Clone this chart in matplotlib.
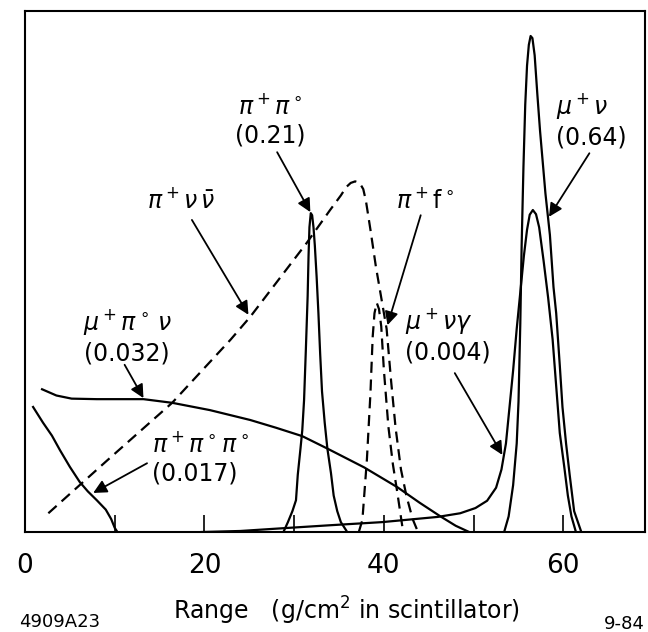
import matplotlib.pyplot as plt

plt.rcParams['font.family'] = 'DejaVu Sans'
plt.rcParams['mathtext.fontset'] = 'dejavusans'

# curves (range in g/cm2, arbitrary height 0..100)
pipi0_x = [28.8, 29.3, 29.8, 30.2, 30.4, 30.7, 30.9, 31.1, 31.3, 31.5, 31.6, 31.7, 31.85, 32.0,
           32.15, 32.3, 32.5, 32.7, 32.9, 33.1, 33.4, 33.7, 34.1, 34.4, 34.8, 35.2, 35.8]
pipi0_y = [0, 1.9, 4, 6.1, 11, 16, 19.5, 25.3, 35, 45.3, 53, 58.5, 61.2, 60.8,
           58.5, 55, 49, 42, 34, 27, 21, 16, 11.3, 7, 4, 1.9, 0.3]

pinunu_x = [2.6, 9.0, 16.4, 22.9, 25.1, 31.4, 34.0, 35.2, 35.8, 36.3, 36.8, 37.3, 37.7,
            38.0, 38.5, 39.1, 39.7, 40.3, 40.8, 41.3, 41.9, 42.5, 43.2, 43.8]
pinunu_y = [3.6, 13.5, 24.8, 36.9, 41.3, 55.5, 61.8, 64.6, 66.2, 67.0, 67.3, 67.0, 65.8,
            63.5, 58, 51, 45, 39, 29, 20, 12, 7, 2.5, 0]

pif0_x = [37.2, 37.6, 38.1, 38.5, 38.75, 38.95, 39.2, 39.45, 39.7, 40.0, 40.5, 41.0, 41.5, 42.1]
pif0_y = [0, 2.3, 13.8, 26.7, 37.5, 42, 44, 42.8, 39.5, 31, 20.2, 13, 7.5, 0.5]

mupi0nu_x = [1.9, 3.5, 5.2, 8.0, 13.2, 16.4, 20.6, 25.1, 28.0, 30.9, 33.6, 37.8, 41.5,
             44.0, 46.3, 48.0, 49.5]
mupi0nu_y = [27.4, 26.2, 25.6, 25.5, 25.5, 24.8, 23.4, 21.5, 20.0, 18.4, 16.1, 12.4, 8.6,
             5.6, 3.0, 1.2, 0]

pipi0pi0_x = [0.9, 2.0, 3.0, 3.9, 5.0, 6.1, 7.0, 8.0, 9.0, 9.6, 10.0, 10.3]
pipi0pi0_y = [24.0, 21.0, 18.5, 15.7, 12.5, 9.6, 7.8, 6.1, 4.3, 2.5, 0.8, 0]

munugam_x = [19.7, 24.0, 29.4, 34.0, 39.8, 46.0, 48.5, 50.2, 51.5, 52.5, 53.1, 53.6, 54.0,
             54.4, 54.8, 55.2, 55.6, 55.95, 56.25, 56.6,
             56.95, 57.3, 57.8, 58.3, 58.8, 59.2, 59.6, 60.1, 60.5, 60.9, 61.4]
munugam_y = [0, 0.2, 0.8, 1.3, 1.9, 2.9, 3.6, 4.6, 6.0, 8.5, 12, 17, 24,
             31, 39, 46, 53, 58, 60.9, 61.8,
             61.0, 58.5, 52, 45, 37, 28, 19, 12.5, 7, 3, 0]

munu_x = [53.4, 53.9, 54.4, 54.8, 55.0, 55.2, 55.35, 55.55, 55.75, 55.95, 56.15, 56.35, 56.55,
          56.8, 57.1, 57.4, 57.7, 58.0, 58.5, 58.9, 59.2, 59.6, 59.9, 60.3, 60.7, 61.2, 62.0]
munu_y = [0, 3, 9, 17, 25, 40, 55, 70, 82, 89.5, 93.5, 95.2, 94.8,
          91.5, 84, 77, 71, 65, 57, 47, 42, 32, 24, 17, 11, 4, 0]

labels = [r'$\pi^+\pi^\circ$' + '\n(0.21)', r'$\mu^+\nu$' + '\n(0.64)',
          r'$\pi^+\nu\,\bar{\nu}$', r'$\pi^+$f$^\circ$',
          r'$\mu^+\pi^\circ\,\nu$' + '\n(0.032)', r'$\mu^+\nu\gamma$' + '\n(0.004)',
          r'$\pi^+\pi^\circ\pi^\circ$' + '\n(0.017)']
label_xy = [(27.3, 79.0), (59.2, 79.0), (17.4, 63.7), (44.6, 63.7),
            (11.4, 37.6), (42.3, 37.8), (14.1, 14.0)]
arrow_tail = [(28.1, 72.9), (62.9, 72.7), (18.6, 59.9), (44.1, 60.8),
              (11.1, 32.1), (47.9, 30.5), (13.6, 13.2)]
arrow_head = [(31.8, 61.4), (58.4, 60.5), (24.9, 41.7), (40.4, 39.7),
              (13.2, 25.7), (53.2, 14.8), (7.6, 7.5)]
label_ha = ['center', 'left', 'center', 'center', 'center', 'left', 'left']

fig = plt.figure(figsize=(6.48, 6.32), dpi=100)
ax = fig.add_axes([0.0386, 0.1582, 0.9568, 0.8244])

lw = 1.6
dash = (0, (5, 3))
ax.plot(pipi0_x, pipi0_y, color='black', lw=lw)
ax.plot(pinunu_x, pinunu_y, color='black', lw=lw, linestyle=dash)
ax.plot(pif0_x, pif0_y, color='black', lw=lw, linestyle=dash)
ax.plot(mupi0nu_x, mupi0nu_y, color='black', lw=lw)
ax.plot(pipi0pi0_x, pipi0pi0_y, color='black', lw=lw)
ax.plot(munugam_x, munugam_y, color='black', lw=lw)
ax.plot(munu_x, munu_y, color='black', lw=lw)

for txt, xy, ha in zip(labels, label_xy, label_ha):
    ax.text(xy[0], xy[1], txt, ha=ha, va='center', fontsize=17, linespacing=1.25)
for t, h in zip(arrow_tail, arrow_head):
    ax.annotate('', xy=h, xytext=t,
                arrowprops=dict(arrowstyle='-|>', color='black', lw=1.3,
                                mutation_scale=20, shrinkA=0, shrinkB=0))

ax.set_xlim(0, 69.1)
ax.set_ylim(0, 100)
ax.set_yticks([])
ax.set_xticks([0, 20, 40, 60])
ax.set_xticks([10, 30, 50], minor=True)
ax.tick_params(axis='x', which='both', direction='in', length=12, width=1.2,
               labelsize=19, pad=15)
for s in ax.spines.values():
    s.set_linewidth(1.5)

fig.text(0.535, 0.033, r'Range   (g/cm$^2$ in scintillator)', ha='center',
         va='center', fontsize=17)
fig.text(0.03, 0.016, '4909A23', ha='left', va='center', fontsize=13)
fig.text(0.995, 0.012, '9-84', ha='right', va='center', fontsize=13)

fig.savefig('out.png', dpi=100)
